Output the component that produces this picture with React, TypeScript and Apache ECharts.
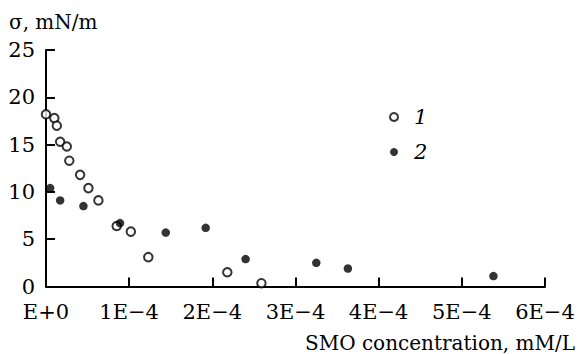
import React, { useEffect, useRef } from "react";
import * as echarts from "echarts";

const seriesNames = ["1", "2"];
const series1X = [0, 0.1, 0.13, 0.17, 0.25, 0.28, 0.41, 0.51, 0.63, 0.85, 1.02, 1.23, 2.18, 2.59];
const series1Y = [18.2, 17.8, 17.0, 15.3, 14.8, 13.3, 11.8, 10.4, 9.1, 6.4, 5.8, 3.1, 1.5, 0.35];
const series2X = [0.05, 0.17, 0.45, 0.89, 1.44, 1.92, 2.4, 3.25, 3.63, 5.38];
const series2Y = [10.4, 9.1, 8.5, 6.7, 5.7, 6.2, 2.9, 2.5, 1.9, 1.1];
const xScale = 1e-4;
const xTickLabels = ["E+0", "1E\u22124", "2E\u22124", "3E\u22124", "4E\u22124", "5E\u22124", "6E\u22124"];
const yTicks = [0, 5, 10, 15, 20, 25];
const xName = "SMO concentration, mM/L";
const yName = "\u03c3, mN/m";

const FONT = "DejaVu Serif";
const FS = 21;
const NAME_FS = 20;

export default function App() {
  const ref = useRef<HTMLDivElement>(null);
  useEffect(() => {
    if (!ref.current) return;
    const chart = echarts.init(ref.current, undefined, { renderer: "svg" });
    const pts1 = series1X.map((x, i) => [x * xScale, series1Y[i]]);
    const pts2 = series2X.map((x, i) => [x * xScale, series2Y[i]]);
    chart.setOption({
      animation: false,
      backgroundColor: "#ffffff",
      textStyle: { fontFamily: FONT, color: "#000" },
      grid: { left: 46, top: 50, right: 36, bottom: 67.5, containLabel: false },
      legend: {
        orient: "vertical",
        left: 389,
        top: 105,
        padding: 0,
        itemWidth: 8,
        itemHeight: 8,
        itemGap: 11,
        icon: "circle",
        data: seriesNames,
        textStyle: {
          fontFamily: FONT,
          fontStyle: "italic",
          fontSize: FS,
          lineHeight: 24,
          color: "#000",
          padding: [0, 0, 0, 11],
        },
      },
      xAxis: {
        type: "value",
        min: 0,
        max: 6 * xScale,
        interval: xScale,
        name: xName,
        nameLocation: "end",
        nameGap: 30,
        nameTextStyle: {
          fontFamily: FONT,
          fontSize: NAME_FS,
          color: "#000",
          align: "right",
          verticalAlign: "top",
          padding: [46, 0, 0, 0],
        },
        axisLine: { show: true, lineStyle: { color: "#000", width: 2 } },
        axisTick: { show: true, inside: true, length: 9, lineStyle: { color: "#000", width: 2 } },
        splitLine: { show: false },
        axisLabel: {
          fontFamily: FONT,
          fontSize: FS,
          color: "#000",
          margin: 15,
          formatter: (v: number) => xTickLabels[Math.round(v / xScale)] ?? "",
        },
      },
      yAxis: {
        type: "value",
        min: yTicks[0],
        max: yTicks[yTicks.length - 1],
        interval: 5,
        name: yName,
        nameLocation: "end",
        nameGap: 18,
        nameTextStyle: {
          fontFamily: FONT,
          fontSize: NAME_FS,
          color: "#000",
          align: "left",
          padding: [0, 0, 0, -37],
        },
        axisLine: { show: true, lineStyle: { color: "#000", width: 2 } },
        axisTick: { show: true, inside: true, length: 9, lineStyle: { color: "#000", width: 2 } },
        splitLine: { show: false },
        axisLabel: { fontFamily: FONT, fontSize: FS, color: "#000", margin: 11 },
      },
      series: [
        {
          name: seriesNames[0],
          type: "scatter",
          data: pts1,
          symbol: "circle",
          symbolSize: 8.5,
          itemStyle: { color: "#ffffff", borderColor: "#000", borderWidth: 2 },
        },
        {
          name: seriesNames[1],
          type: "scatter",
          data: pts2,
          symbol: "circle",
          symbolSize: 8.5,
          itemStyle: { color: "#000", borderColor: "#000", borderWidth: 0 },
        },
      ],
    });
    return () => chart.dispose();
  }, []);
  return <div ref={ref} style={{ position: "fixed", left: 0, top: 0, width: 581, height: 354 }} />;
}
